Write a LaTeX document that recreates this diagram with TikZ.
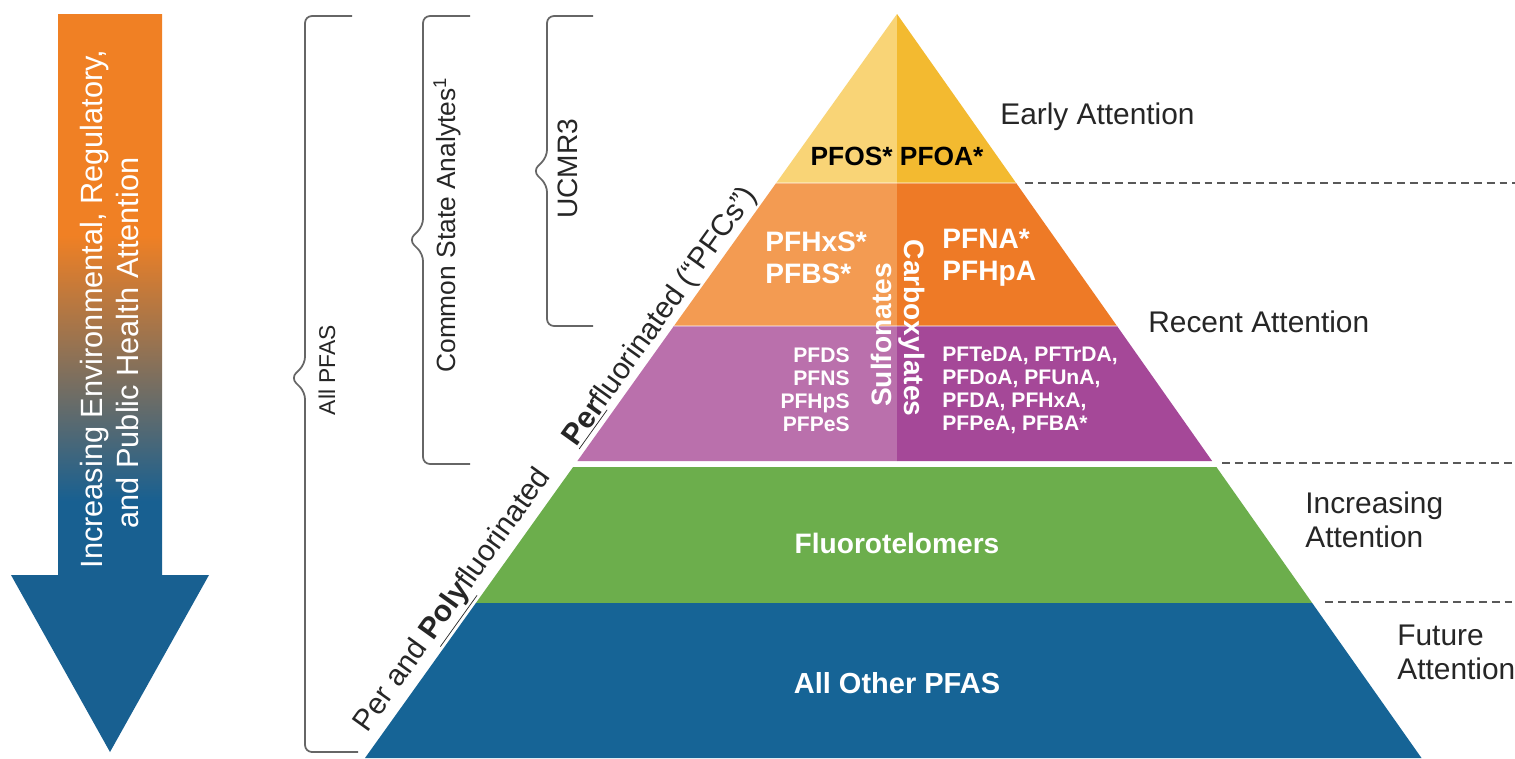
\documentclass[tikz,border=0pt]{standalone}
\usepackage{fontspec}
\setmainfont{Liberation Sans}

\definecolor{yellowL}{RGB}{249,212,118}
\definecolor{yellowR}{RGB}{243,186,48}
\definecolor{orangeL}{RGB}{243,155,82}
\definecolor{orangeR}{RGB}{238,122,38}
\definecolor{purpleL}{RGB}{186,112,172}
\definecolor{purpleR}{RGB}{165,72,152}
\definecolor{pfgreen}{RGB}{108,174,76}
\definecolor{pfblue}{RGB}{22,100,150}
\definecolor{arroworange}{RGB}{240,128,36}
\definecolor{arrowblue}{RGB}{24,96,145}

\pgfdeclareverticalshading{attentionshade}{100bp}{color(0bp)=(arrowblue); color(42bp)=(arrowblue); color(60bp)=(arroworange); color(100bp)=(arroworange)}

\begin{document}
\begin{tikzpicture}[x=0.02cm, y=-0.02cm,
    bracket/.style ={draw=black!60, line width=1pt, rounded corners=4pt},
    divider/.style ={draw=black!65, line width=1.1pt, dash pattern=on 4.5pt off 2.8pt},
    attn/.style ={text=black!85, font=\fontsize{17}{19.4}\selectfont, inner sep=0pt},
    bracetext/.style ={text=black!85, rotate=90, inner sep=0pt},
    edgetext/.style ={text=black!85, rotate=54.4, anchor=south, inner sep=1pt,
                      font=\fontsize{17}{20}\selectfont},
    bandtext/.style ={text=white, font=\bfseries\fontsize{16}{18.2}\selectfont, inner sep=0pt},
    smalltext/.style ={text=white, font=\bfseries\fontsize{12}{13.1}\selectfont, inner sep=0pt},
    arrowtext/.style ={text=white, rotate=90, font=\fontsize{17.5}{20}\selectfont, inner sep=0pt}]
   \useasboundingbox (0,0) rectangle (1515,758);
   \fill[white] (0,0) rectangle (1515,758);

   % attention arrow
   \shade[shading=attentionshade] (58,14) -- (162,14) -- (162,575) -- (209,575)
      -- (110,752) -- (11,575) -- (58,575) -- cycle;
   \node[arrowtext] (incA) at (95,309) {Increasing Environmental, Regulatory,};
   \node[arrowtext] (incB) at (128,343) {and Public Health Attention};

   % braces
   \draw[bracket] (352,16) -- (305,16) -- (305,364) -- (291,378) -- (305,392) -- (305,752) -- (358,752);
   \draw[bracket] (470,16) -- (423,16) -- (423,226) -- (409,240) -- (423,254) -- (423,464) -- (470,464);
   \draw[bracket] (593,16) -- (547,16) -- (547,157) -- (533,171) -- (547,185) -- (547,326) -- (593,326);
   \node[bracetext, font=\fontsize{13}{15}\selectfont] (allpfas) at (327,370) {All PFAS};
   \node[bracetext, font=\fontsize{15}{18}\selectfont] (state) at (447,225) {Common State Analytes\textsuperscript{1}};
   \node[bracetext, font=\fontsize{16}{18}\selectfont] (ucmr) at (568,169) {UCMR3};

   % pyramid
   \fill[yellowL] (897,14) -- (776.2,183) -- (897,183) -- cycle;
   \fill[yellowR] (897,14) -- (897,183) -- (1016.1,183) -- cycle;
   \fill[orangeL] (776.2,183) -- (673.9,326) -- (897,326) -- (897,183) -- cycle;
   \fill[orangeR] (897,183) -- (897,326) -- (1117,326) -- (1016.1,183) -- cycle;
   \fill[purpleL] (673.9,326) -- (577.4,461) -- (897,461) -- (897,326) -- cycle;
   \fill[purpleR] (897,326) -- (897,461) -- (1212.1,461) -- (1117,326) -- cycle;
   \fill[pfgreen] (573.1,467) -- (475.9,603) -- (1312.2,603) -- (1216.4,467) -- cycle;
   \fill[pfblue] (475.9,603) -- (365,758) -- (1421.5,758) -- (1312.2,603) -- cycle;
   \draw[white, opacity=0.35, line width=1.5pt] (776.2,183) -- (1016.1,183);
   \draw[white, opacity=0.35, line width=1.5pt] (673.9,326) -- (1117,326);

   \node[text=black, font=\bfseries\fontsize{15}{18}\selectfont, inner sep=0pt] (pfos) at (897,156) {PFOS* PFOA*};
   \node[bandtext, anchor=west, align=left] (sulfA) at (765,258) {PFHxS*\\PFBS*};
   \node[bandtext, anchor=west, align=left] (carbA) at (942,258) {PFNA*\\PFHpA};
   \node[bandtext, rotate=90] (sulf) at (881,335) {Sulfonates};
   \node[bandtext, rotate=-90] (carb) at (912,328) {Carboxylates};
   \node[smalltext, anchor=east, align=right] (sulfB) at (850,390) {PFDS\\PFNS\\PFHpS\\PFPeS};
   \node[smalltext, anchor=west, align=left] (carbB) at (942,390) {PFTeDA, PFTrDA,\\PFDoA, PFUnA,\\PFDA, PFHxA,\\PFPeA, PFBA*};
   \node[bandtext] (fluoro) at (897,543) {Fluorotelomers};
   \node[bandtext, font=\bfseries\fontsize{16.5}{19}\selectfont] (other) at (897,683) {All Other PFAS};

   \node[edgetext] (perfl) at (674,326) {\underline{\textbf{Per}}fluorinated (“PFCs”)};
   \node[edgetext] (polyfl) at (469,612) {Per and \underline{\textbf{Poly}}fluorinated};

   % attention levels
   \draw[divider] (1025,183) -- (1515,183);
   \draw[divider] (1222,463) -- (1515,463);
   \draw[divider] (1325,602) -- (1515,602);
   \node[attn, anchor=west] (early) at (1000,117) {Early Attention};
   \node[attn, anchor=west] (recent) at (1148,322) {Recent Attention};
   \node[attn, anchor=west, align=left] (incr) at (1305,520) {Increasing\\Attention};
   \node[attn, anchor=west, align=left] (future) at (1397,652) {Future\\Attention};
\end{tikzpicture}
\end{document}
